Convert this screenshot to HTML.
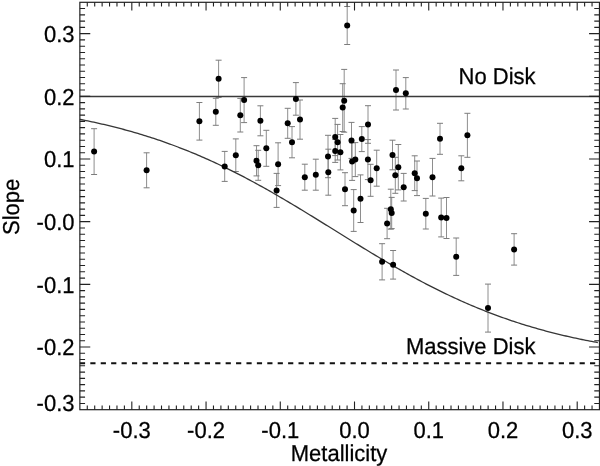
<!DOCTYPE html><html><head><meta charset="utf-8"><style>html,body{margin:0;padding:0;background:#fff;}svg{display:block;}</style></head><body>
<svg width="600" height="466" viewBox="0 0 600 466">
<rect width="600" height="466" fill="#fff"/>
<path d="M94.1 128.7V174.5M146.6 152.8V187.8M218.6 60.2V97.4M244.1 77.6V122.6M215.8 98.3V125.3M240.3 98.4V132.0M199.4 102.5V140.1M260.4 105.8V135.8M224.7 151.4V181.4M235.8 138.9V171.5M256.5 145.7V175.9M258.2 150.3V180.3M266.3 130.3V166.3M278.1 142.8V185.6M276.6 173.4V207.4M295.9 82.6V115.2M287.7 108.3V138.3M300.0 100.0V139.2M292.0 126.6V157.8M347.2 6.5V44.5M344.2 69.4V132.2M342.7 83.7V131.5M368.0 105.7V143.3M335.2 118.4V155.6M337.6 124.4V160.0M335.2 139.4V162.4M340.4 134.5V169.9M328.0 135.3V177.7M328.3 149.2V195.2M351.5 122.4V158.4M361.8 126.6V151.6M367.9 139.6V179.6M352.1 142.8V180.4M355.3 142.6V176.6M376.7 150.2V186.2M315.8 159.2V190.2M304.8 164.2V190.2M345.0 172.7V205.7M353.7 189.6V231.4M360.5 174.9V222.5M396.0 70.0V110.0M405.8 77.6V109.0M440.0 123.3V154.3M467.4 113.3V157.3M392.5 140.2V169.8M398.3 144.5V189.9M395.3 157.3V193.3M414.7 155.8V190.6M417.0 161.0V195.6M432.5 158.4V196.0M461.3 155.8V180.8M403.7 173.4V201.0M370.6 164.3V196.3M390.8 189.2V229.2M391.7 197.4V228.6M387.1 208.3V238.7M425.8 198.4V229.0M441.2 198.1V236.9M446.5 197.5V238.5M382.1 243.7V279.9M393.1 250.5V279.1M514.1 233.7V265.1M456.2 238.0V275.4M488.0 284.1V332.1" stroke="#8e8e8e" stroke-width="1.0" fill="none"/>
<path d="M91.1 128.7h6M91.1 174.5h6M143.6 152.8h6M143.6 187.8h6M215.6 60.2h6M215.6 97.4h6M241.1 77.6h6M241.1 122.6h6M212.8 98.3h6M212.8 125.3h6M237.3 98.4h6M237.3 132.0h6M196.4 102.5h6M196.4 140.1h6M257.4 105.8h6M257.4 135.8h6M221.7 151.4h6M221.7 181.4h6M232.8 138.9h6M232.8 171.5h6M253.5 145.7h6M253.5 175.9h6M255.2 150.3h6M255.2 180.3h6M263.3 130.3h6M263.3 166.3h6M275.1 142.8h6M275.1 185.6h6M273.6 173.4h6M273.6 207.4h6M292.9 82.6h6M292.9 115.2h6M284.7 108.3h6M284.7 138.3h6M297.0 100.0h6M297.0 139.2h6M289.0 126.6h6M289.0 157.8h6M344.2 6.5h6M344.2 44.5h6M341.2 69.4h6M341.2 132.2h6M339.7 83.7h6M339.7 131.5h6M365.0 105.7h6M365.0 143.3h6M332.2 118.4h6M332.2 155.6h6M334.6 124.4h6M334.6 160.0h6M332.2 139.4h6M332.2 162.4h6M337.4 134.5h6M337.4 169.9h6M325.0 135.3h6M325.0 177.7h6M325.3 149.2h6M325.3 195.2h6M348.5 122.4h6M348.5 158.4h6M358.8 126.6h6M358.8 151.6h6M364.9 139.6h6M364.9 179.6h6M349.1 142.8h6M349.1 180.4h6M352.3 142.6h6M352.3 176.6h6M373.7 150.2h6M373.7 186.2h6M312.8 159.2h6M312.8 190.2h6M301.8 164.2h6M301.8 190.2h6M342.0 172.7h6M342.0 205.7h6M350.7 189.6h6M350.7 231.4h6M357.5 174.9h6M357.5 222.5h6M393.0 70.0h6M393.0 110.0h6M402.8 77.6h6M402.8 109.0h6M437.0 123.3h6M437.0 154.3h6M464.4 113.3h6M464.4 157.3h6M389.5 140.2h6M389.5 169.8h6M395.3 144.5h6M395.3 189.9h6M392.3 157.3h6M392.3 193.3h6M411.7 155.8h6M411.7 190.6h6M414.0 161.0h6M414.0 195.6h6M429.5 158.4h6M429.5 196.0h6M458.3 155.8h6M458.3 180.8h6M400.7 173.4h6M400.7 201.0h6M367.6 164.3h6M367.6 196.3h6M387.8 189.2h6M387.8 229.2h6M388.7 197.4h6M388.7 228.6h6M384.1 208.3h6M384.1 238.7h6M422.8 198.4h6M422.8 229.0h6M438.2 198.1h6M438.2 236.9h6M443.5 197.5h6M443.5 238.5h6M379.1 243.7h6M379.1 279.9h6M390.1 250.5h6M390.1 279.1h6M511.1 233.7h6M511.1 265.1h6M453.2 238.0h6M453.2 275.4h6M485.0 284.1h6M485.0 332.1h6" stroke="#7c7c7c" stroke-width="1.0" fill="none"/>
<path d="M79.9 96.5H599.5" stroke="#3a3a3a" stroke-width="1.35"/>
<path d="M79.9 363.3H599.5" stroke="#111" stroke-width="1.9" stroke-dasharray="5.2 5.21"/>
<path d="M79.86 119.35 L81.86 119.74 L83.86 120.14 L85.86 120.54 L87.86 120.95 L89.86 121.37 L91.86 121.79 L93.86 122.23 L95.86 122.66 L97.86 123.11 L99.86 123.56 L101.86 124.01 L103.86 124.48 L105.86 124.95 L107.86 125.42 L109.86 125.91 L111.86 126.40 L113.86 126.90 L115.86 127.40 L117.86 127.92 L119.86 128.44 L121.86 128.97 L123.86 129.50 L125.86 130.04 L127.86 130.60 L129.86 131.15 L131.86 131.72 L133.86 132.29 L135.86 132.87 L137.86 133.46 L139.86 134.06 L141.86 134.67 L143.86 135.28 L145.86 135.90 L147.86 136.53 L149.86 137.17 L151.86 137.82 L153.86 138.47 L155.86 139.14 L157.86 139.81 L159.86 140.49 L161.86 141.18 L163.86 141.87 L165.86 142.58 L167.86 143.29 L169.86 144.02 L171.86 144.75 L173.86 145.49 L175.86 146.24 L177.86 147.00 L179.86 147.77 L181.86 148.54 L183.86 149.33 L185.86 150.12 L187.86 150.92 L189.86 151.74 L191.86 152.56 L193.86 153.38 L195.86 154.22 L197.86 155.07 L199.86 155.93 L201.86 156.79 L203.86 157.66 L205.86 158.55 L207.86 159.44 L209.86 160.34 L211.86 161.25 L213.86 162.17 L215.86 163.09 L217.86 164.03 L219.86 164.97 L221.86 165.92 L223.86 166.88 L225.86 167.85 L227.86 168.83 L229.86 169.82 L231.86 170.81 L233.86 171.82 L235.86 172.83 L237.86 173.85 L239.86 174.87 L241.86 175.91 L243.86 176.95 L245.86 178.00 L247.86 179.06 L249.86 180.13 L251.86 181.20 L253.86 182.28 L255.86 183.37 L257.86 184.46 L259.86 185.56 L261.86 186.67 L263.86 187.79 L265.86 188.91 L267.86 190.04 L269.86 191.17 L271.86 192.31 L273.86 193.46 L275.86 194.61 L277.86 195.77 L279.86 196.94 L281.86 198.11 L283.86 199.28 L285.86 200.46 L287.86 201.64 L289.86 202.83 L291.86 204.03 L293.86 205.23 L295.86 206.43 L297.86 207.63 L299.86 208.84 L301.86 210.06 L303.86 211.28 L305.86 212.50 L307.86 213.72 L309.86 214.94 L311.86 216.17 L313.86 217.40 L315.86 218.64 L317.86 219.87 L319.86 221.11 L321.86 222.35 L323.86 223.59 L325.86 224.83 L327.86 226.07 L329.86 227.31 L331.86 228.56 L333.86 229.80 L335.86 231.04 L337.86 232.29 L339.86 233.53 L341.86 234.77 L343.86 236.01 L345.86 237.25 L347.86 238.49 L349.86 239.73 L351.86 240.97 L353.86 242.20 L355.86 243.43 L357.86 244.66 L359.86 245.89 L361.86 247.12 L363.86 248.34 L365.86 249.56 L367.86 250.77 L369.86 251.98 L371.86 253.19 L373.86 254.40 L375.86 255.60 L377.86 256.79 L379.86 257.98 L381.86 259.17 L383.86 260.35 L385.86 261.53 L387.86 262.70 L389.86 263.87 L391.86 265.03 L393.86 266.19 L395.86 267.34 L397.86 268.48 L399.86 269.62 L401.86 270.75 L403.86 271.88 L405.86 273.00 L407.86 274.11 L409.86 275.21 L411.86 276.31 L413.86 277.40 L415.86 278.49 L417.86 279.57 L419.86 280.64 L421.86 281.70 L423.86 282.75 L425.86 283.80 L427.86 284.84 L429.86 285.87 L431.86 286.89 L433.86 287.91 L435.86 288.92 L437.86 289.91 L439.86 290.91 L441.86 291.89 L443.86 292.86 L445.86 293.83 L447.86 294.78 L449.86 295.73 L451.86 296.67 L453.86 297.60 L455.86 298.53 L457.86 299.44 L459.86 300.34 L461.86 301.24 L463.86 302.13 L465.86 303.01 L467.86 303.88 L469.86 304.74 L471.86 305.59 L473.86 306.43 L475.86 307.27 L477.86 308.09 L479.86 308.91 L481.86 309.71 L483.86 310.51 L485.86 311.30 L487.86 312.08 L489.86 312.85 L491.86 313.62 L493.86 314.37 L495.86 315.12 L497.86 315.85 L499.86 316.58 L501.86 317.30 L503.86 318.01 L505.86 318.71 L507.86 319.41 L509.86 320.09 L511.86 320.77 L513.86 321.44 L515.86 322.10 L517.86 322.75 L519.86 323.39 L521.86 324.02 L523.86 324.65 L525.86 325.27 L527.86 325.88 L529.86 326.48 L531.86 327.07 L533.86 327.66 L535.86 328.24 L537.86 328.81 L539.86 329.37 L541.86 329.92 L543.86 330.47 L545.86 331.01 L547.86 331.54 L549.86 332.07 L551.86 332.58 L553.86 333.09 L555.86 333.60 L557.86 334.09 L559.86 334.58 L561.86 335.06 L563.86 335.53 L565.86 336.00 L567.86 336.46 L569.86 336.92 L571.86 337.36 L573.86 337.80 L575.86 338.24 L577.86 338.66 L579.86 339.09 L581.86 339.50 L583.86 339.91 L585.86 340.31 L587.86 340.71 L589.86 341.10 L591.86 341.48 L593.86 341.86 L595.86 342.23 L597.86 342.60" stroke="#363636" stroke-width="1.3" fill="none"/>
<circle cx="94.1" cy="151.6" r="3.0" fill="#000"/>
<circle cx="146.6" cy="170.3" r="3.0" fill="#000"/>
<circle cx="218.6" cy="78.8" r="3.0" fill="#000"/>
<circle cx="244.1" cy="100.1" r="3.0" fill="#000"/>
<circle cx="215.8" cy="111.8" r="3.0" fill="#000"/>
<circle cx="240.3" cy="115.2" r="3.0" fill="#000"/>
<circle cx="199.4" cy="121.3" r="3.0" fill="#000"/>
<circle cx="260.4" cy="120.8" r="3.0" fill="#000"/>
<circle cx="224.7" cy="166.4" r="3.0" fill="#000"/>
<circle cx="235.8" cy="155.2" r="3.0" fill="#000"/>
<circle cx="256.5" cy="160.8" r="3.0" fill="#000"/>
<circle cx="258.2" cy="165.3" r="3.0" fill="#000"/>
<circle cx="266.3" cy="148.3" r="3.0" fill="#000"/>
<circle cx="278.1" cy="164.2" r="3.0" fill="#000"/>
<circle cx="276.6" cy="190.4" r="3.0" fill="#000"/>
<circle cx="295.9" cy="98.9" r="3.0" fill="#000"/>
<circle cx="287.7" cy="123.3" r="3.0" fill="#000"/>
<circle cx="300.0" cy="119.6" r="3.0" fill="#000"/>
<circle cx="292.0" cy="142.2" r="3.0" fill="#000"/>
<circle cx="347.2" cy="25.5" r="3.0" fill="#000"/>
<circle cx="344.2" cy="100.8" r="3.0" fill="#000"/>
<circle cx="342.7" cy="107.6" r="3.0" fill="#000"/>
<circle cx="368.0" cy="124.5" r="3.0" fill="#000"/>
<circle cx="335.2" cy="137.0" r="3.0" fill="#000"/>
<circle cx="337.6" cy="142.2" r="3.0" fill="#000"/>
<circle cx="335.2" cy="150.9" r="3.0" fill="#000"/>
<circle cx="340.4" cy="152.2" r="3.0" fill="#000"/>
<circle cx="328.0" cy="156.5" r="3.0" fill="#000"/>
<circle cx="328.3" cy="172.2" r="3.0" fill="#000"/>
<circle cx="351.5" cy="140.4" r="3.0" fill="#000"/>
<circle cx="361.8" cy="139.1" r="3.0" fill="#000"/>
<circle cx="367.9" cy="159.6" r="3.0" fill="#000"/>
<circle cx="352.1" cy="161.6" r="3.0" fill="#000"/>
<circle cx="355.3" cy="159.6" r="3.0" fill="#000"/>
<circle cx="376.7" cy="168.2" r="3.0" fill="#000"/>
<circle cx="315.8" cy="174.7" r="3.0" fill="#000"/>
<circle cx="304.8" cy="177.2" r="3.0" fill="#000"/>
<circle cx="345.0" cy="189.2" r="3.0" fill="#000"/>
<circle cx="353.7" cy="210.5" r="3.0" fill="#000"/>
<circle cx="360.5" cy="198.7" r="3.0" fill="#000"/>
<circle cx="396.0" cy="90.0" r="3.0" fill="#000"/>
<circle cx="405.8" cy="93.3" r="3.0" fill="#000"/>
<circle cx="440.0" cy="138.8" r="3.0" fill="#000"/>
<circle cx="467.4" cy="135.3" r="3.0" fill="#000"/>
<circle cx="392.5" cy="155.0" r="3.0" fill="#000"/>
<circle cx="398.3" cy="167.2" r="3.0" fill="#000"/>
<circle cx="395.3" cy="175.3" r="3.0" fill="#000"/>
<circle cx="414.7" cy="173.2" r="3.0" fill="#000"/>
<circle cx="417.0" cy="178.3" r="3.0" fill="#000"/>
<circle cx="432.5" cy="177.2" r="3.0" fill="#000"/>
<circle cx="461.3" cy="168.3" r="3.0" fill="#000"/>
<circle cx="403.7" cy="187.2" r="3.0" fill="#000"/>
<circle cx="370.6" cy="180.3" r="3.0" fill="#000"/>
<circle cx="390.8" cy="209.2" r="3.0" fill="#000"/>
<circle cx="391.7" cy="213.0" r="3.0" fill="#000"/>
<circle cx="387.1" cy="223.5" r="3.0" fill="#000"/>
<circle cx="425.8" cy="213.7" r="3.0" fill="#000"/>
<circle cx="441.2" cy="217.5" r="3.0" fill="#000"/>
<circle cx="446.5" cy="218.0" r="3.0" fill="#000"/>
<circle cx="382.1" cy="261.8" r="3.0" fill="#000"/>
<circle cx="393.1" cy="264.8" r="3.0" fill="#000"/>
<circle cx="514.1" cy="249.4" r="3.0" fill="#000"/>
<circle cx="456.2" cy="256.7" r="3.0" fill="#000"/>
<circle cx="488.0" cy="308.1" r="3.0" fill="#000"/>
<rect x="79.86" y="2.30" width="519.61" height="407.39" fill="none" stroke="#222" stroke-width="1.2"/>
<path d="M87.28 409.70v-4.1M87.28 2.30v4.1M94.71 409.70v-4.1M94.71 2.30v4.1M102.13 409.70v-4.1M102.13 2.30v4.1M109.55 409.70v-4.1M109.55 2.30v4.1M116.97 409.70v-4.1M116.97 2.30v4.1M124.40 409.70v-4.1M124.40 2.30v4.1M131.82 409.70v-8.2M131.82 2.30v8.2M139.24 409.70v-4.1M139.24 2.30v4.1M146.67 409.70v-4.1M146.67 2.30v4.1M154.09 409.70v-4.1M154.09 2.30v4.1M161.51 409.70v-4.1M161.51 2.30v4.1M168.94 409.70v-4.1M168.94 2.30v4.1M176.36 409.70v-4.1M176.36 2.30v4.1M183.78 409.70v-4.1M183.78 2.30v4.1M191.20 409.70v-4.1M191.20 2.30v4.1M198.63 409.70v-4.1M198.63 2.30v4.1M206.05 409.70v-8.2M206.05 2.30v8.2M213.47 409.70v-4.1M213.47 2.30v4.1M220.90 409.70v-4.1M220.90 2.30v4.1M228.32 409.70v-4.1M228.32 2.30v4.1M235.74 409.70v-4.1M235.74 2.30v4.1M243.17 409.70v-4.1M243.17 2.30v4.1M250.59 409.70v-4.1M250.59 2.30v4.1M258.01 409.70v-4.1M258.01 2.30v4.1M265.43 409.70v-4.1M265.43 2.30v4.1M272.86 409.70v-4.1M272.86 2.30v4.1M280.28 409.70v-8.2M280.28 2.30v8.2M287.70 409.70v-4.1M287.70 2.30v4.1M295.13 409.70v-4.1M295.13 2.30v4.1M302.55 409.70v-4.1M302.55 2.30v4.1M309.97 409.70v-4.1M309.97 2.30v4.1M317.39 409.70v-4.1M317.39 2.30v4.1M324.82 409.70v-4.1M324.82 2.30v4.1M332.24 409.70v-4.1M332.24 2.30v4.1M339.66 409.70v-4.1M339.66 2.30v4.1M347.09 409.70v-4.1M347.09 2.30v4.1M354.51 409.70v-8.2M354.51 2.30v8.2M361.93 409.70v-4.1M361.93 2.30v4.1M369.36 409.70v-4.1M369.36 2.30v4.1M376.78 409.70v-4.1M376.78 2.30v4.1M384.20 409.70v-4.1M384.20 2.30v4.1M391.62 409.70v-4.1M391.62 2.30v4.1M399.05 409.70v-4.1M399.05 2.30v4.1M406.47 409.70v-4.1M406.47 2.30v4.1M413.89 409.70v-4.1M413.89 2.30v4.1M421.32 409.70v-4.1M421.32 2.30v4.1M428.74 409.70v-8.2M428.74 2.30v8.2M436.16 409.70v-4.1M436.16 2.30v4.1M443.59 409.70v-4.1M443.59 2.30v4.1M451.01 409.70v-4.1M451.01 2.30v4.1M458.43 409.70v-4.1M458.43 2.30v4.1M465.85 409.70v-4.1M465.85 2.30v4.1M473.28 409.70v-4.1M473.28 2.30v4.1M480.70 409.70v-4.1M480.70 2.30v4.1M488.12 409.70v-4.1M488.12 2.30v4.1M495.55 409.70v-4.1M495.55 2.30v4.1M502.97 409.70v-8.2M502.97 2.30v8.2M510.39 409.70v-4.1M510.39 2.30v4.1M517.82 409.70v-4.1M517.82 2.30v4.1M525.24 409.70v-4.1M525.24 2.30v4.1M532.66 409.70v-4.1M532.66 2.30v4.1M540.09 409.70v-4.1M540.09 2.30v4.1M547.51 409.70v-4.1M547.51 2.30v4.1M554.93 409.70v-4.1M554.93 2.30v4.1M562.35 409.70v-4.1M562.35 2.30v4.1M569.78 409.70v-4.1M569.78 2.30v4.1M577.20 409.70v-8.2M577.20 2.30v8.2M584.62 409.70v-4.1M584.62 2.30v4.1M592.05 409.70v-4.1M592.05 2.30v4.1M79.86 403.43h5.2M599.47 403.43h-5.2M79.86 397.16h5.2M599.47 397.16h-5.2M79.86 390.90h5.2M599.47 390.90h-5.2M79.86 384.63h5.2M599.47 384.63h-5.2M79.86 378.36h5.2M599.47 378.36h-5.2M79.86 372.09h5.2M599.47 372.09h-5.2M79.86 365.82h5.2M599.47 365.82h-5.2M79.86 359.56h5.2M599.47 359.56h-5.2M79.86 353.29h5.2M599.47 353.29h-5.2M79.86 347.02h10.4M599.47 347.02h-10.4M79.86 340.75h5.2M599.47 340.75h-5.2M79.86 334.49h5.2M599.47 334.49h-5.2M79.86 328.22h5.2M599.47 328.22h-5.2M79.86 321.95h5.2M599.47 321.95h-5.2M79.86 315.68h5.2M599.47 315.68h-5.2M79.86 309.42h5.2M599.47 309.42h-5.2M79.86 303.15h5.2M599.47 303.15h-5.2M79.86 296.88h5.2M599.47 296.88h-5.2M79.86 290.61h5.2M599.47 290.61h-5.2M79.86 284.35h10.4M599.47 284.35h-10.4M79.86 278.08h5.2M599.47 278.08h-5.2M79.86 271.81h5.2M599.47 271.81h-5.2M79.86 265.54h5.2M599.47 265.54h-5.2M79.86 259.28h5.2M599.47 259.28h-5.2M79.86 253.01h5.2M599.47 253.01h-5.2M79.86 246.74h5.2M599.47 246.74h-5.2M79.86 240.47h5.2M599.47 240.47h-5.2M79.86 234.21h5.2M599.47 234.21h-5.2M79.86 227.94h5.2M599.47 227.94h-5.2M79.86 221.67h10.4M599.47 221.67h-10.4M79.86 215.40h5.2M599.47 215.40h-5.2M79.86 209.13h5.2M599.47 209.13h-5.2M79.86 202.87h5.2M599.47 202.87h-5.2M79.86 196.60h5.2M599.47 196.60h-5.2M79.86 190.33h5.2M599.47 190.33h-5.2M79.86 184.06h5.2M599.47 184.06h-5.2M79.86 177.80h5.2M599.47 177.80h-5.2M79.86 171.53h5.2M599.47 171.53h-5.2M79.86 165.26h5.2M599.47 165.26h-5.2M79.86 158.99h10.4M599.47 158.99h-10.4M79.86 152.73h5.2M599.47 152.73h-5.2M79.86 146.46h5.2M599.47 146.46h-5.2M79.86 140.19h5.2M599.47 140.19h-5.2M79.86 133.92h5.2M599.47 133.92h-5.2M79.86 127.66h5.2M599.47 127.66h-5.2M79.86 121.39h5.2M599.47 121.39h-5.2M79.86 115.12h5.2M599.47 115.12h-5.2M79.86 108.85h5.2M599.47 108.85h-5.2M79.86 102.59h5.2M599.47 102.59h-5.2M79.86 96.32h10.4M599.47 96.32h-10.4M79.86 90.05h5.2M599.47 90.05h-5.2M79.86 83.78h5.2M599.47 83.78h-5.2M79.86 77.52h5.2M599.47 77.52h-5.2M79.86 71.25h5.2M599.47 71.25h-5.2M79.86 64.98h5.2M599.47 64.98h-5.2M79.86 58.71h5.2M599.47 58.71h-5.2M79.86 52.44h5.2M599.47 52.44h-5.2M79.86 46.18h5.2M599.47 46.18h-5.2M79.86 39.91h5.2M599.47 39.91h-5.2M79.86 33.64h10.4M599.47 33.64h-10.4M79.86 27.37h5.2M599.47 27.37h-5.2M79.86 21.11h5.2M599.47 21.11h-5.2M79.86 14.84h5.2M599.47 14.84h-5.2M79.86 8.57h5.2M599.47 8.57h-5.2" stroke="#222" stroke-width="1.1" fill="none"/>
<g font-family="Liberation Sans, Arial, Helvetica, sans-serif" font-size="22" fill="#000" text-rendering="geometricPrecision" stroke="#000" stroke-width="0.25">
<text transform="translate(74.50 41.84) scale(1 1.045)" text-anchor="end">0.3</text>
<text transform="translate(74.50 104.52) scale(1 1.045)" text-anchor="end">0.2</text>
<text transform="translate(74.50 167.19) scale(1 1.045)" text-anchor="end">0.1</text>
<text transform="translate(74.50 229.87) scale(1 1.045)" text-anchor="end">-0.0</text>
<text transform="translate(74.50 292.55) scale(1 1.045)" text-anchor="end">-0.1</text>
<text transform="translate(74.50 355.22) scale(1 1.045)" text-anchor="end">-0.2</text>
<text transform="translate(74.50 410.50) scale(1 1.045)" text-anchor="end">-0.3</text>
<text transform="translate(131.82 438.10) scale(1 1.045)" text-anchor="middle">-0.3</text>
<text transform="translate(206.05 438.10) scale(1 1.045)" text-anchor="middle">-0.2</text>
<text transform="translate(280.28 438.10) scale(1 1.045)" text-anchor="middle">-0.1</text>
<text transform="translate(354.51 438.10) scale(1 1.045)" text-anchor="middle">0.0</text>
<text transform="translate(428.74 438.10) scale(1 1.045)" text-anchor="middle">0.1</text>
<text transform="translate(502.97 438.10) scale(1 1.045)" text-anchor="middle">0.2</text>
<text transform="translate(577.20 438.10) scale(1 1.045)" text-anchor="middle">0.3</text>
<text transform="translate(339.00 460.60) scale(1 1.045)" text-anchor="middle">Metallicity</text>
<text transform="translate(19.20 206.80) rotate(-90) scale(1 1.045)" text-anchor="middle">Slope</text>
<text transform="translate(458.60 83.60) scale(1 1.045)" text-anchor="start">No Disk</text>
<text transform="translate(405.90 353.80) scale(1 1.045)" text-anchor="start">Massive Disk</text>
</g></svg></body></html>
